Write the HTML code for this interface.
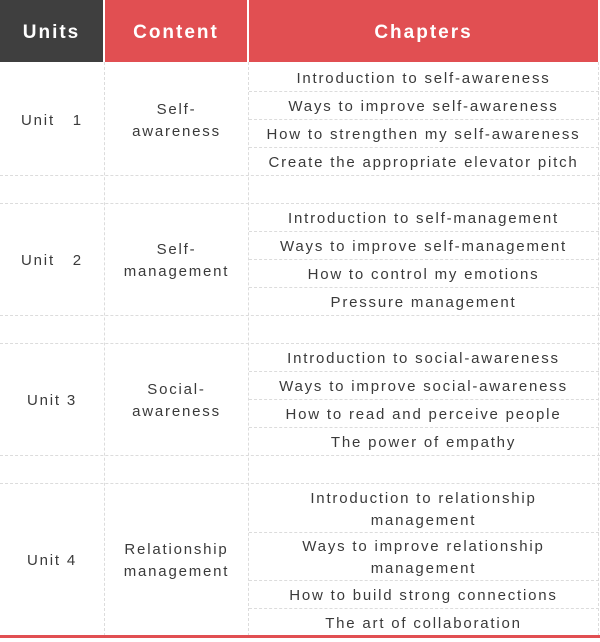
<!DOCTYPE html>
<html><head><meta charset="utf-8"><style>
body{margin:0;width:600px;height:642px;background:#fff;position:relative;overflow:hidden;font-family:"Liberation Sans","DejaVu Sans",sans-serif;color:#3a3a3a}
.a{position:absolute}
.h{top:0;height:62px;padding-top:4px;box-sizing:border-box;color:#fff;font-weight:bold;font-size:19px;letter-spacing:2px;display:flex;align-items:center;justify-content:center}
.c{position:absolute;display:flex;align-items:center;justify-content:center;text-align:center;font-size:15px;letter-spacing:1.8px;line-height:22px;padding-top:3px;box-sizing:border-box}
.hl{position:absolute;height:0;border-top:1px dashed #dcdcdc}
.vl{position:absolute;width:0;border-left:1px dashed #dcdcdc}
</style></head><body>
<div class="a h" style="left:0;width:103px;background:#3f3f3f">Units</div>
<div class="a h" style="left:105px;width:142px;background:#e14f52">Content</div>
<div class="a h" style="left:249px;width:349px;background:#e14f52">Chapters</div>

<div class="vl" style="left:104px;top:62px;height:574px"></div>
<div class="vl" style="left:248px;top:62px;height:574px"></div>
<div class="vl" style="left:598px;top:62px;height:574px"></div>

<div class="hl" style="left:0;width:600px;top:175px"></div>
<div class="hl" style="left:0;width:600px;top:203px"></div>
<div class="hl" style="left:0;width:600px;top:315px"></div>
<div class="hl" style="left:0;width:600px;top:343px"></div>
<div class="hl" style="left:0;width:600px;top:455px"></div>
<div class="hl" style="left:0;width:600px;top:483px"></div>

<div class="hl" style="left:249px;width:350px;top:91px"></div>
<div class="hl" style="left:249px;width:350px;top:119px"></div>
<div class="hl" style="left:249px;width:350px;top:147px"></div>
<div class="hl" style="left:249px;width:350px;top:231px"></div>
<div class="hl" style="left:249px;width:350px;top:259px"></div>
<div class="hl" style="left:249px;width:350px;top:287px"></div>
<div class="hl" style="left:249px;width:350px;top:371px"></div>
<div class="hl" style="left:249px;width:350px;top:399px"></div>
<div class="hl" style="left:249px;width:350px;top:427px"></div>
<div class="hl" style="left:249px;width:350px;top:532px"></div>
<div class="hl" style="left:249px;width:350px;top:580px"></div>
<div class="hl" style="left:249px;width:350px;top:608px"></div>

<div class="c" style="left:0;width:104px;top:63px;height:112px">Unit&nbsp;&nbsp; 1</div>
<div class="c" style="left:105px;width:143px;top:63px;height:112px">Self-<br>awareness</div>
<div class="c" style="left:249px;width:349px;top:63px;height:28px">Introduction to self-awareness</div>
<div class="c" style="left:249px;width:349px;top:91px;height:28px">Ways to improve self-awareness</div>
<div class="c" style="left:249px;width:349px;top:119px;height:28px">How to strengthen my self-awareness</div>
<div class="c" style="left:249px;width:349px;top:147px;height:28px">Create the appropriate elevator pitch</div>

<div class="c" style="left:0;width:104px;top:203px;height:112px">Unit&nbsp;&nbsp; 2</div>
<div class="c" style="left:105px;width:143px;top:203px;height:112px">Self-<br>management</div>
<div class="c" style="left:249px;width:349px;top:203px;height:28px">Introduction to self-management</div>
<div class="c" style="left:249px;width:349px;top:231px;height:28px">Ways to improve self-management</div>
<div class="c" style="left:249px;width:349px;top:259px;height:28px">How to control my emotions</div>
<div class="c" style="left:249px;width:349px;top:287px;height:28px">Pressure management</div>

<div class="c" style="left:0;width:104px;top:343px;height:112px">Unit 3</div>
<div class="c" style="left:105px;width:143px;top:343px;height:112px">Social-<br>awareness</div>
<div class="c" style="left:249px;width:349px;top:343px;height:28px">Introduction to social-awareness</div>
<div class="c" style="left:249px;width:349px;top:371px;height:28px">Ways to improve social-awareness</div>
<div class="c" style="left:249px;width:349px;top:399px;height:28px">How to read and perceive people</div>
<div class="c" style="left:249px;width:349px;top:427px;height:28px">The power of empathy</div>

<div class="c" style="left:0;width:104px;top:483px;height:153px">Unit 4</div>
<div class="c" style="left:105px;width:143px;top:483px;height:153px">Relationship<br>management</div>
<div class="c" style="left:249px;width:349px;top:484px;height:48px">Introduction to relationship<br>management</div>
<div class="c" style="left:249px;width:349px;top:532px;height:48px">Ways to improve relationship<br>management</div>
<div class="c" style="left:249px;width:349px;top:580px;height:28px">How to build strong connections</div>
<div class="c" style="left:249px;width:349px;top:608px;height:28px">The art of collaboration</div>

<div class="a" style="left:0;top:635px;width:600px;height:3px;background:#e14f52"></div>
</body></html>
